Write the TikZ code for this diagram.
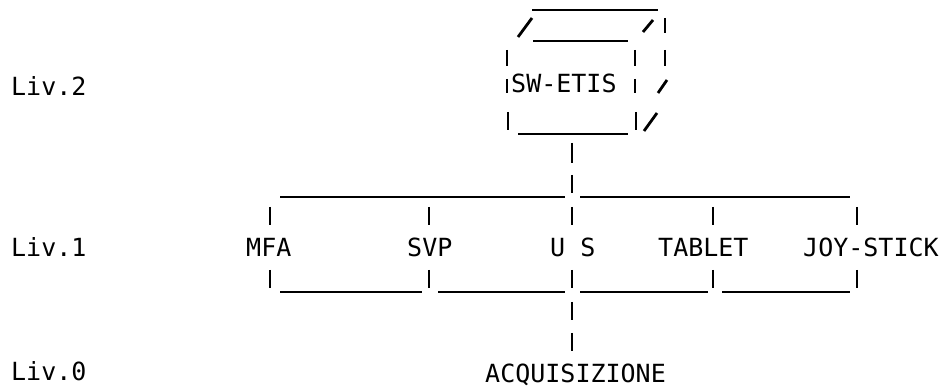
\documentclass[tikz,border=0pt]{standalone}
\usepackage{fontspec}
\setmonofont{DejaVu Sans Mono}
\begin{document}
\begin{tikzpicture}[x=1pt,y=-1pt,
  txt/.style={anchor=base west,inner sep=0pt,font=\ttfamily\fontsize{25}{28}\selectfont,text=black},
  lvl/.style={txt},
  ln/.style={line width=2.8pt,black}]
\useasboundingbox[fill=white] (0,0) rectangle (948,387);
% level labels
\node[lvl] (l2) at (11,96) {Liv.2};
\node[lvl] (l1) at (11,257) {Liv.1};
\node[lvl] (l0) at (11,381) {Liv.0};
% cube
\node[txt] (sw) at (511,93) {SW-ETIS};
\draw[ln] (532,10) -- (658,10);
\draw[ln] (518,37) -- (532,18);
\draw[ln] (533,41) -- (628,41);
\draw[ln] (643,32) -- (653,20);
\draw[ln] (665,18) -- (665,33);
\draw[ln] (507,50) -- (507,66);
\draw[ln] (635,50) -- (635,66);
\draw[ln] (665,50) -- (665,66);
\draw[ln] (507,79) -- (507,93);
\draw[ln] (635,79) -- (635,93);
\draw[ln] (658,93) -- (667,80);
\draw[ln] (508,112) -- (508,130);
\draw[ln] (518,134) -- (628,134);
\draw[ln] (636,112) -- (636,130);
\draw[ln] (644,131) -- (657,113);
% trunk
\draw[ln] (572,143) -- (572,163);
\draw[ln] (572,175) -- (572,193);
\draw[ln] (280,197) -- (565,197);
\draw[ln] (580,197) -- (850,197);
% devices
\foreach \x in {270,429,572,713,857} {
  \draw[ln] (\x,207) -- (\x,225);
  \draw[ln] (\x,270) -- (\x,288);
}
\node[txt] (mfa) at (246,257) {MFA};
\node[txt] (svp) at (407,257) {SVP};
\node[txt] (us) at (550,257) {U S};
\node[txt] (tab) at (658,257) {TABLET};
\node[txt] (joy) at (803,257) {JOY-STICK};
\draw[ln] (280,292) -- (422,292);
\draw[ln] (438,292) -- (565,292);
\draw[ln] (580,292) -- (708,292);
\draw[ln] (722,292) -- (850,292);
\draw[ln] (572,302) -- (572,320);
\draw[ln] (572,333) -- (572,351);
\node[txt] (acq) at (485,382) {ACQUISIZIONE};
\end{tikzpicture}
\end{document}
